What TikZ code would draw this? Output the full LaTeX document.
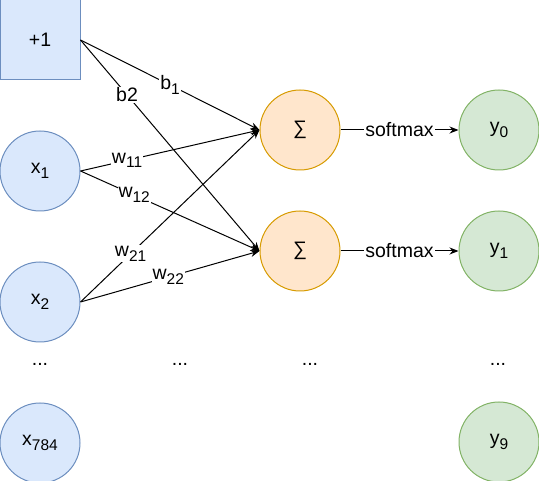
\documentclass[tikz,border=0pt]{standalone}
\usepackage{fontspec}
\setmainfont{Liberation Sans}
\usetikzlibrary{positioning, arrows.meta}
\definecolor{inblue}{HTML}{DAE8FC}
\definecolor{inblueline}{HTML}{6C8EBF}
\definecolor{sumorange}{HTML}{FFE6CC}
\definecolor{sumorangeline}{HTML}{D79B00}
\definecolor{outgreen}{HTML}{D5E8D4}
\definecolor{outgreenline}{HTML}{82B366}
\newcommand{\lowtxt}[1]{\raisebox{-4.5pt}{\fontsize{15.5pt}{15.5pt}\selectfont #1}}
\tikzset{
  inbox/.style={
    rectangle, draw=inblueline, fill=inblue, line width=1pt,
    minimum size=80pt, inner sep=0pt
  },
  incirc/.style={
    circle, draw=inblueline, fill=inblue, line width=1pt,
    minimum size=80pt, inner sep=0pt
  },
  sumcirc/.style={
    circle, draw=sumorangeline, fill=sumorange, line width=1pt,
    minimum size=80pt, inner sep=0pt
  },
  outcirc/.style={
    circle, draw=outgreenline, fill=outgreen, line width=1pt,
    minimum size=80pt, inner sep=0pt
  },
  arrow/.style={line width=1pt, -{Stealth[length=9pt, width=7pt]}},
  wlabel/.style={fill=white, inner sep=1pt},
  dotsnode/.style={anchor=base, inner sep=0pt}
}
\begin{document}
\begin{tikzpicture}[font=\fontsize{19.5pt}{22pt}\selectfont]
\useasboundingbox (0pt,0pt) rectangle (539pt,-481pt);

% Input layer
\node[inbox] (bias) at (40pt,-40pt) {+1};
\node[incirc, below=50pt of bias] (x1) {x\lowtxt{1}};
\node[incirc, below=50pt of x1] (x2) {x\lowtxt{2}};
\node[incirc, below=60pt of x2] (x784) {x\lowtxt{784}};

% Sum nodes
\node[sumcirc] (s1) at (300pt,-130pt) {∑};
\node[sumcirc, below=40pt of s1] (s2) {∑};

% Output layer
\node[outcirc, right=118pt of s1] (y0) {y\lowtxt{0}};
\node[outcirc, right=118pt of s2] (y1) {y\lowtxt{1}};
\node[outcirc, below=110pt of y1] (y9) {y\lowtxt{9}};

% Dots
\node[dotsnode] (xdots) at (40pt,-366pt) {...};
\node[dotsnode] (wdots) at (180pt,-366pt) {...};
\node[dotsnode] (sdots) at (310pt,-366pt) {...};
\node[dotsnode] (ydots) at (498pt,-366pt) {...};

% Weighted edges
\draw[arrow] (bias.east) -- node[wlabel, pos=0.5] (lb1) {b\lowtxt{1}} (s1.west);
\draw[arrow] (bias.east) -- node[wlabel, pos=0.26] (lb2) {b2} (s2.west);
\draw[arrow] (x1.east) -- node[wlabel, pos=0.26] (lw11) {w\lowtxt{11}} (s1.west);
\draw[arrow] (x1.east) -- node[wlabel, pos=0.3] (lw12) {w\lowtxt{12}} (s2.west);
\draw[arrow] (x2.east) -- node[wlabel, pos=0.28] (lw21) {w\lowtxt{21}} (s1.west);
\draw[arrow] (x2.east) -- node[wlabel, pos=0.49] (lw22) {w\lowtxt{22}} (s2.west);

% Softmax
\draw[arrow] (s1.east) -- node[wlabel] (sm1) {softmax} (y0.west);
\draw[arrow] (s2.east) -- node[wlabel] (sm2) {softmax} (y1.west);

\end{tikzpicture}
\end{document}
